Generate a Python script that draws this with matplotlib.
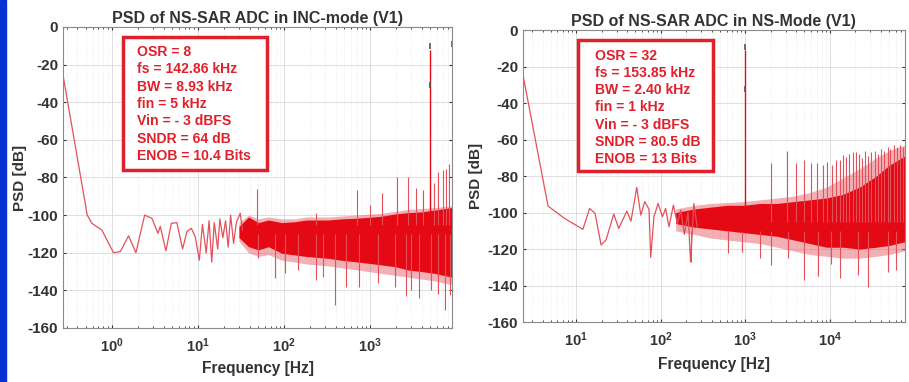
import numpy as np
import matplotlib
matplotlib.use("Agg")
import matplotlib.pyplot as plt
from matplotlib.patches import Rectangle

plt.rcParams['font.family'] = ['Liberation Sans', 'DejaVu Sans']
plt.rcParams['font.weight'] = 'bold'
plt.rcParams['axes.unicode_minus'] = False
plt.rcParams['mathtext.fontset'] = 'custom'
plt.rcParams['mathtext.rm'] = 'Liberation Sans:bold'
plt.rcParams['mathtext.bf'] = 'Liberation Sans:bold'

# ---- INC-mode (left) ----
inc_line_f = [0.272, 0.52, 0.59, 0.77, 1.05, 1.26, 1.57, 1.91, 2.41, 2.93, 3.44, 3.66,
              4.26, 4.92, 5.71, 6.65, 7.47, 8.4, 9.33, 10.4, 11.3, 12.5, 13.5, 14.5,
              15.5, 17, 18, 19.5, 21, 22.5, 24, 26, 28, 31, 33]
inc_line_db = [-25.5, -100, -104.4, -108, -120, -119.4, -111, -120, -100, -101.7, -109.7, -106,
               -119, -104.4, -104, -118, -108.8, -107, -111.5, -124, -105, -120, -103, -125,
               -104, -118, -102, -112, -103, -117, -100, -115, -104, -99, -108]
inc_band_f = [30, 38.8, 50.5, 66, 94.4, 135, 182, 327, 465, 670, 950, 1360, 1940, 2760,
              3940, 5630, 8930]
inc_band_hi = [-106, -101, -104, -102.6, -104, -103.5, -102.6, -102.6, -102, -101.7, -101.2,
               -100.6, -99.4, -98.7, -98.3, -97.3, -96]
inc_band_lo = [-112, -116.8, -118.5, -116.8, -120.3, -121.2, -122, -123, -124, -124.8, -125.6,
               -126.5, -127.4, -129.2, -130, -131, -133]
inc_light_hi = [-104, -100, -102, -101, -102, -102, -101, -101, -100.5, -100, -99.5, -99, -98,
                -97, -96.5, -96, -95]
inc_light_lo = [-114, -120, -122, -121, -124, -125, -126, -127, -128, -129, -130, -131, -132,
                -133, -134, -135, -137]
inc_spur_f = [48, 237, 697, 996, 1355, 2061, 2760, 3450, 4140, 5490, 6140, 6950, 7540, 8200]
inc_spur_db = [-86, -99, -86.7, -94.6, -88, -80, -80, -85.7, -86.7, -83, -77, -76, -75.5, -73]
inc_dip_f = [50.5, 79, 102, 147, 237, 286, 390, 530, 750, 1240, 1940, 2630, 3000, 3670,
             5100, 6140, 7300, 8500]
inc_dip_db = [-123, -133.5, -131, -129, -134.5, -132.7, -148, -138, -138, -136, -138, -143,
              -140, -144, -140, -142, -150.5, -142.5]
inc_tone = (5000, -12.5)
inc_tips_f = [5000, 5000, 8850]
inc_tips_db = [-10, -31, -9]
inc_info = ["OSR = 8", "fs = 142.86 kHz", "BW = 8.93 kHz", "fin = 5 kHz",
            "Vin = - 3 dBFS", "SNDR = 64 dB", "ENOB = 10.4 Bits"]

# ---- NS-mode (right) ----
ns_line_f = [2.35, 4.64, 7.28, 12, 14.4, 16.7, 19.7, 22.5, 27.8, 31.8, 39.7, 44.4, 52, 58,
             64.6, 72.6, 76, 83, 93, 104.6, 114, 125, 141, 157, 172, 190, 210, 225, 246, 270]
ns_line_db = [-24.7, -96.4, -103.2, -109.2, -97.7, -100.5, -117.8, -115, -100.8, -108.7,
              -99.2, -104.7, -86.2, -101.4, -94, -98.2, -124.6, -102.3, -95, -102.3, -97.7,
              -107.8, -95.9, -106, -98.6, -112, -100, -127, -95, -108]
ns_band_f = [150, 250, 390, 610, 950, 1500, 2370, 3720, 5820, 9140, 14300, 22500, 35300,
             50500, 76900]
ns_band_hi = [-100, -98, -97, -96, -96, -95, -95, -94, -93, -92, -90, -86, -80, -74, -69]
ns_band_lo = [-106, -108, -109, -110, -111, -112, -113, -115, -117, -119, -119, -120, -119,
              -118, -116]
ns_light_hi = [-98, -96, -95, -94.5, -94, -93, -92, -91, -89, -86, -81, -76, -70, -66, -63]
ns_light_lo = [-110, -112, -114, -115, -116, -117, -119, -121, -123, -124, -125, -125, -124,
               -123, -121]
ns_spur_f = [2020, 3100, 3990, 4950, 5940, 7000, 8200, 9200, 10500, 11700, 13000, 14200,
             15500, 16900, 18900, 20400, 22000, 24000, 26000, 28500, 31000, 34000, 37000,
             40000, 44000, 48000, 52000, 57000, 62000, 68000, 73000]
ns_spur_db = [-72.7, -66, -72.7, -70.9, -72.7, -73, -74, -72, -74, -71, -71, -68.5,
              -69.4, -67.7, -66.8, -67, -68, -70, -66, -69, -67, -66, -68,
              -65, -66, -64, -65, -63, -64, -63, -64]
ns_dip_f = [225, 630, 910, 1500, 2030, 3170, 4980, 7270, 10400, 13000, 21500, 28000, 48000, 61000]
ns_dip_db = [-127, -122, -121.5, -125, -128.8, -125, -137, -135, -128, -136, -134, -140.6,
             -132.4, -131.5]
ns_tone = (1000, -11)
ns_tips_f = [1000, 1000]
ns_tips_db = [-9, -32]
ns_info = ["OSR = 32", "fs = 153.85 kHz", "BW = 2.40 kHz", "fin = 1 kHz",
           "Vin = - 3 dBFS", "SNDR = 80.5 dB", "ENOB = 13 Bits"]

RED = '#e50914'
LIGHT = '#e4505a'
TXT = '#e0202a'
GRAY = '#333333'


def draw_psd(ax, title, line_f, line_db, band_f, band_hi, band_lo, light_hi, light_lo,
             spur_f, spur_db, dip_f, dip_db, tone, tips_f, tips_db, info, xlim, xticks,
             box, text_xy):
    ax.set_xscale('log')
    ax.plot(line_f, line_db, color=LIGHT, lw=0.9)
    ax.fill_between(band_f, light_lo, light_hi, color=LIGHT, alpha=0.45, lw=0)
    ax.fill_between(band_f, band_lo, band_hi, color=RED, lw=0)
    ax.vlines(spur_f, -105, spur_db, color=LIGHT, lw=0.8)
    ax.vlines(dip_f, dip_db, -110, color=LIGHT, lw=0.8)
    ax.vlines([tone[0]], -105, tone[1], color=RED, lw=1.0)
    ax.plot(tips_f, tips_db, ls='none', marker='|', ms=5, mew=1.2, color='#555555')

    ax.set_xlim(*xlim)
    ax.set_ylim(-160, 0)
    ax.set_yticks(np.arange(-160, 1, 20))
    ax.set_yticklabels([str(v) for v in range(-160, 1, 20)])
    ax.set_xticks(xticks)
    ax.set_xticklabels([r'$\mathbf{10^{%d}}$' % int(np.log10(t)) for t in xticks])
    ax.tick_params(which='both', direction='in', top=True, right=True,
                   labelsize=10.5, colors=GRAY, length=2.5)
    ax.tick_params(axis='y', labelsize=11)
    ax.tick_params(axis='x', which='major', pad=6)
    ax.tick_params(which='minor', length=1.5)
    for lab in ax.get_yticklabels() + ax.get_xticklabels():
        lab.set_fontweight('bold')
    ax.grid(True, which='major', color='#d9d9d9', lw=0.6)
    ax.grid(True, which='minor', axis='x', color='#e2e2e2', lw=0.5, ls=':')
    ax.set_axisbelow(True)
    for s in ax.spines.values():
        s.set_color('#8a8a8a')
        s.set_linewidth(0.8)

    ax.set_title(title, fontsize=11.5, fontweight='bold', color=GRAY, pad=3)
    ax.set_xlabel('Frequency [Hz]', fontsize=11.2, fontweight='bold', color=GRAY)
    ax.set_ylabel('PSD [dB]', fontsize=11, fontweight='bold', color=GRAY)

    ax.add_patch(Rectangle((box[0], box[1]), box[2], box[3], transform=ax.transAxes,
                           fc='white', ec=TXT, lw=2.5, zorder=5))
    ax.text(text_xy[0], text_xy[1], "\n".join(info), transform=ax.transAxes,
            ha='left', va='top', fontsize=10.1, fontweight='bold', color=TXT,
            linespacing=1.3, zorder=6)


fig = plt.figure(figsize=(9.09, 3.82), dpi=100)
fig.patches.append(Rectangle((0, 0), 6 / 909, 1, transform=fig.transFigure,
                             color='#0632d2', zorder=0))

ax1 = fig.add_axes([0.0693, 0.1414, 0.428, 0.788])
ax2 = fig.add_axes([0.5754, 0.157, 0.420, 0.764])

draw_psd(ax1, 'PSD of NS-SAR ADC in INC-mode (V1)', inc_line_f, inc_line_db,
         inc_band_f, inc_band_hi, inc_band_lo, inc_light_hi, inc_light_lo,
         inc_spur_f, inc_spur_db, inc_dip_f, inc_dip_db, inc_tone,
         inc_tips_f, inc_tips_db, inc_info,
         (0.272, 8930), [1, 10, 100, 1000],
         (0.154, 0.525, 0.370, 0.442), (0.190, 0.940))
draw_psd(ax2, 'PSD of NS-SAR ADC in NS-Mode (V1)', ns_line_f, ns_line_db,
         ns_band_f, ns_band_hi, ns_band_lo, ns_light_hi, ns_light_lo,
         ns_spur_f, ns_spur_db, ns_dip_f, ns_dip_db, ns_tone,
         ns_tips_f, ns_tips_db, ns_info,
         (2.35, 76900), [10, 100, 1000, 10000],
         (0.143, 0.518, 0.354, 0.448), (0.188, 0.937))

ax1.yaxis.set_label_coords(-0.093, 0.5)
ax2.yaxis.set_label_coords(-0.105, 0.5)
ax1.xaxis.set_label_coords(0.5, -0.11)
ax2.xaxis.set_label_coords(0.5, -0.119)

fig.savefig('out.png', dpi=100)
